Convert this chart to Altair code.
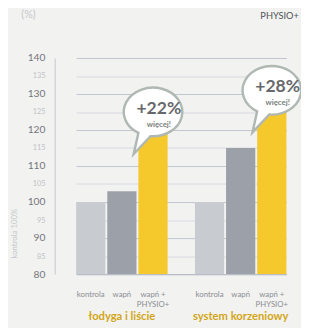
import altair as alt
import pandas as pd

FONT = "Lato"

groups = ["łodyga i liście", "system korzeniowy"]
treatments = ["kontrola", "wapń", "wapń + PHYSIO+"]
treatment_labels = ["kontrola", "wapń", "wapń +\nPHYSIO+"]
values_lodyga = [100, 103, 122]
values_korzen = [100, 115, 128]
gain_labels = ["+22%", "+28%"]
more_label = "więcej!"
bar_colors = ["#c8cbd0", "#9ca0a8", "#f5c82b"]
y_ticks = list(range(80, 141, 5))

rows = []
for g, vals in zip(groups, [values_lodyga, values_korzen]):
    for t, lab, v in zip(treatments, treatment_labels, vals):
        rows.append(dict(group=g, treatment=t, label=lab, value=v))
df = pd.DataFrame(rows)
gain_df = df[df["treatment"] == treatments[2]].copy()
gain_df["gain"] = gain_labels
gain_df["more"] = more_label

x_scale = alt.Scale(domain=groups, range=[22, 238], paddingInner=0.23, paddingOuter=0)
xo_scale = alt.Scale(domain=treatments, paddingInner=0.0625, paddingOuter=0)

x_axis = alt.Axis(title=None, labelAngle=0, labelColor="#d3a617", labelFontSize=11.5,
                  labelFontWeight="bold", labelPadding=38, ticks=False,
                  domainColor="#b9bdc8", domainWidth=1.2, labelFont=FONT)
y_axis = alt.Axis(
    values=y_ticks, tickCount=13, title="kontrola 100%", ticks=False, labelPadding=10,
    labelFont=FONT, labelOverlap=False,
    labelColor={"condition": {"test": "datum.value % 10 == 0", "value": "#74777e"}, "value": "#c0c3c9"},
    labelFontSize={"condition": {"test": "datum.value % 10 == 0", "value": 10.5}, "value": 7.5},
    gridColor={"condition": {"test": "datum.value % 10 == 0", "value": "#c0c4d0"}, "value": "#d6d9e1"},
    domainColor="#c5c9d3",
    titleX=-41, titleY=180, titleAngle=270, titleAlign="center", titleBaseline="middle",
    titleColor="#c3c7cd", titleFontSize=8, titleFontWeight="normal", titleFont=FONT,
)
y_scale = alt.Scale(domain=[80, 140], nice=False, zero=False)

def xs():
    return alt.X("group:N", sort=groups, scale=x_scale, axis=x_axis)
def xo():
    return alt.XOffset("treatment:N", sort=treatments, scale=xo_scale)
def ys():
    return alt.Y("value:Q", scale=y_scale, axis=y_axis)

bars = alt.Chart(df).mark_bar(clip=True).encode(
    x=xs(), xOffset=xo(), y=ys(),
    color=alt.Color("treatment:N", scale=alt.Scale(domain=treatments, range=bar_colors), legend=None),
)

bubble_path = "M -0.47 0.325 L -0.62 1.0 L -0.082 0.427 A 0.94 0.78 0 1 0 -0.47 0.325 Z"
bubbles = alt.Chart(gain_df).mark_point(
    shape=bubble_path, size=4096, filled=True, fill="white", stroke="#b0b8b3",
    strokeWidth=2.5, opacity=1, xOffset=6,
).encode(x=xs(), xOffset=xo(), y=ys())

gain_text = alt.Chart(gain_df).mark_text(
    dy=-14, dx=6, fontSize=18, color="#66696b", font=FONT, fontWeight="bold",
).encode(x=xs(), xOffset=xo(), y=ys(), text="gain:N")

more_text = alt.Chart(gain_df).mark_text(
    dy=2, dx=6, fontSize=8, color="#7b7f7d", font=FONT, fontWeight="bold",
).encode(x=xs(), xOffset=xo(), y=ys(), text="more:N")

cat_text = alt.Chart(df).mark_text(
    fontSize=8, color="#8b8e94", lineBreak="\n", baseline="middle", lineHeight=10, font=FONT,
).encode(x=xs(), xOffset=xo(), y=alt.value(244), text="label:N")

pct = alt.Chart(pd.DataFrame({"t": ["(%)"]})).mark_text(
    fontSize=11, color="#c5c8cd", font=FONT,
).encode(x=alt.value(-27), y=alt.value(-44), text="t:N")

legend_txt = alt.Chart(pd.DataFrame({"t": ["PHYSIO+"]})).mark_text(
    fontSize=9.5, color="#4f5257", font=FONT,
).encode(x=alt.value(231), y=alt.value(-43), text="t:N")

chart = alt.layer(bars, bubbles, gain_text, more_text, cat_text, pct, legend_txt).properties(
    width=253, height=222,
    padding={"left": 48, "top": 47, "right": 0, "bottom": 51},
    autosize=alt.AutoSizeParams(type="none"),
    background="#f2f2f0",
).configure_view(stroke=None)

chart.save("out.html", embed_options={"renderer": "svg", "actions": False})
